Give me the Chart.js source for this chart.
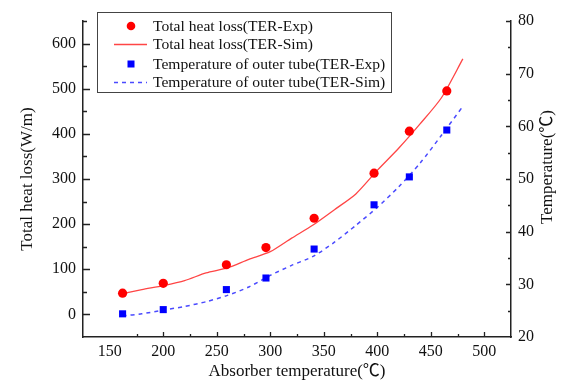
<!DOCTYPE html>
<html><head><meta charset="utf-8">
<script src="https://cdn.jsdelivr.net/npm/chart.js@4.4.0/dist/chart.umd.min.js"></script>
<style>html,body{margin:0;padding:0;background:#fff;}#wrap{width:576px;height:391px;position:relative;}</style>
</head><body><div id="wrap"><canvas id="c"></canvas></div>
<script>
const expTemps = [162, 200, 259, 296, 341, 397, 430, 465];
const heatLossExp = [47, 69, 110, 148, 213, 313, 406, 495];
const tubeTempExp = [24.4, 25.2, 29.0, 31.2, 36.7, 45.1, 50.4, 59.3];
const simTemps = [162, 180, 200, 220, 240, 260, 280, 300, 320, 340, 360, 380, 400, 420, 440, 460, 480];
const heatLossSim = [46, 55, 64, 75, 92, 103, 122, 139, 169, 198, 232, 267, 319, 368, 422, 480, 566];
const tubeTempSim = [24.0, 24.4, 25.1, 25.8, 26.7, 27.9, 29.5, 31.7, 33.6, 35.3, 38.0, 41.2, 44.6, 48.5, 53.0, 58.3, 63.8];
const xTicks = [150, 200, 250, 300, 350, 400, 450, 500];
const yLeftTicks = [0, 100, 200, 300, 400, 500, 600];
const yRightTicks = [20, 30, 40, 50, 60, 70, 80];
const seriesNames = ['Total heat loss(TER-Exp)', 'Total heat loss(TER-Sim)', 'Temperature of outer tube(TER-Exp)', 'Temperature of outer tube(TER-Sim)'];
const xTitle = 'Absorber temperature(\u2103)';
const yLeftTitle = 'Total heat loss(W/m)';
const yRightTitle = 'Temperature(\u2103)';

const FONT = "'Liberation Serif', 'Noto Sans CJK SC', serif";
Chart.defaults.font.family = FONT;
Chart.defaults.color = '#111';

const pts = (xs, ys) => xs.map((x, i) => ({x: x, y: ys[i]}));

const datasets = [
  {label: seriesNames[0], data: pts(expTemps, heatLossExp), yAxisID: 'y', showLine: false,
   pointStyle: 'circle', pointRadius: 4.6, backgroundColor: '#ff0000', borderColor: '#ff0000', borderWidth: 0, order: 1},
  {label: seriesNames[1], data: pts(simTemps, heatLossSim), yAxisID: 'y', showLine: true,
   pointRadius: 0, borderColor: '#ff4545', borderWidth: 1.3, tension: 0.25, order: 3},
  {label: seriesNames[2], data: pts(expTemps, tubeTempExp), yAxisID: 'y2', showLine: false,
   pointStyle: 'rect', pointRadius: 5, backgroundColor: '#0000ff', borderColor: '#0000ff', borderWidth: 0, order: 2},
  {label: seriesNames[3], data: pts(simTemps, tubeTempSim), yAxisID: 'y2', showLine: true,
   pointRadius: 0, borderColor: '#4a4aff', borderWidth: 1.5, borderDash: [4, 4], tension: 0.25, order: 4}
];

const extras = {
  id: 'extras',
  afterDraw(chart) {
    const ctx = chart.ctx, a = chart.chartArea;
    const sx = chart.scales.x, sy = chart.scales.y, sy2 = chart.scales.y2;
    ctx.save();
    ctx.strokeStyle = '#222';
    ctx.lineWidth = 1.3;
    ctx.beginPath();
    for (let v = 175; v <= 500; v += 25) {
      const px = Math.round(sx.getPixelForValue(v)) + 0.5;
      const len = v % 50 === 0 ? 5 : 3;
      ctx.moveTo(px, a.bottom); ctx.lineTo(px, a.bottom - len);
    }
    for (let v = 0; v <= 650; v += 50) {
      const py = Math.round(sy.getPixelForValue(v)) + 0.5;
      const len = v % 100 === 0 ? 7 : 4;
      ctx.moveTo(a.left, py); ctx.lineTo(a.left + len, py);
    }
    for (let v = 25; v <= 80; v += 5) {
      const py = Math.round(sy2.getPixelForValue(v)) + 0.5;
      const len = v % 10 === 0 ? 5 : 3;
      ctx.moveTo(a.right, py); ctx.lineTo(a.right - len, py);
    }
    ctx.stroke();

    // right axis title (reads bottom to top)
    ctx.save();
    ctx.translate(548, 167);
    ctx.rotate(-Math.PI / 2);
    ctx.fillStyle = '#111';
    ctx.font = '17px ' + FONT;
    ctx.textAlign = 'center';
    ctx.textBaseline = 'middle';
    ctx.fillText(yRightTitle, 0, 0);
    ctx.restore();

    // legend
    const lx = 97.5, ly = 12.5, lw = 294, lh = 80;
    ctx.fillStyle = '#fff';
    ctx.fillRect(lx, ly, lw, lh);
    ctx.strokeStyle = '#444';
    ctx.lineWidth = 1;
    ctx.strokeRect(lx, ly, lw, lh);
    const rows = [26, 44.5, 64, 82.5];
    ctx.font = '15.6px ' + FONT;
    ctx.textAlign = 'left';
    ctx.textBaseline = 'middle';
    chart.data.datasets.forEach((ds, i) => {
      const y = rows[i];
      if (ds.showLine) {
        ctx.save();
        ctx.strokeStyle = ds.borderColor;
        ctx.lineWidth = ds.borderWidth;
        ctx.setLineDash(ds.borderDash || []);
        ctx.beginPath(); ctx.moveTo(114, y); ctx.lineTo(147, y); ctx.stroke();
        ctx.restore();
      } else {
        ctx.fillStyle = ds.backgroundColor;
        if (ds.pointStyle === 'circle') {
          ctx.beginPath(); ctx.arc(131, y, 4.3, 0, Math.PI * 2); ctx.fill();
        } else {
          ctx.fillRect(127.5, y - 3.5, 7, 7);
        }
      }
      ctx.fillStyle = '#111';
      ctx.fillText(ds.label, 153, y + 0.5);
    });
    ctx.restore();
  }
};

new Chart(document.getElementById('c'), {
  type: 'scatter',
  data: {datasets: datasets},
  plugins: [extras],
  options: {
    responsive: true,
    maintainAspectRatio: false,
    animation: false,
    devicePixelRatio: 1,
    layout: {padding: {top: 21, left: 0, right: 0, bottom: 0}},
    plugins: {legend: {display: false}, tooltip: {enabled: false}},
    scales: {
      x: {
        type: 'linear', min: 125, max: 525,
        afterBuildTicks: s => { s.ticks = xTicks.map(v => ({value: v})); },
        afterFit: s => { s.height = 54; },
        grid: {display: false, drawTicks: false},
        border: {display: true, color: '#222', width: 1.5},
        ticks: {padding: 5, font: {size: 16}, color: '#111'},
        title: {display: true, text: xTitle, font: {size: 17}, color: '#111', padding: {top: 0, bottom: 9}}
      },
      y: {
        type: 'linear', position: 'left', min: -50, max: 650,
        afterBuildTicks: s => { s.ticks = yLeftTicks.map(v => ({value: v})); },
        afterFit: s => { s.width = 83; },
        grid: {display: false, drawTicks: false},
        border: {display: true, color: '#222', width: 1.5},
        ticks: {padding: 7, font: {size: 16}, color: '#111'},
        title: {display: true, text: yLeftTitle, font: {size: 17}, color: '#111', padding: {top: 17, bottom: 0}}
      },
      y2: {
        type: 'linear', position: 'right', min: 20, max: 80,
        afterBuildTicks: s => { s.ticks = yRightTicks.map(v => ({value: v})); },
        afterFit: s => { s.width = 65; },
        grid: {display: false, drawTicks: false},
        border: {display: true, color: '#222', width: 1.5},
        ticks: {padding: 7, font: {size: 16}, color: '#111'},
        title: {display: false}
      }
    }
  }
});
</script></body></html>
